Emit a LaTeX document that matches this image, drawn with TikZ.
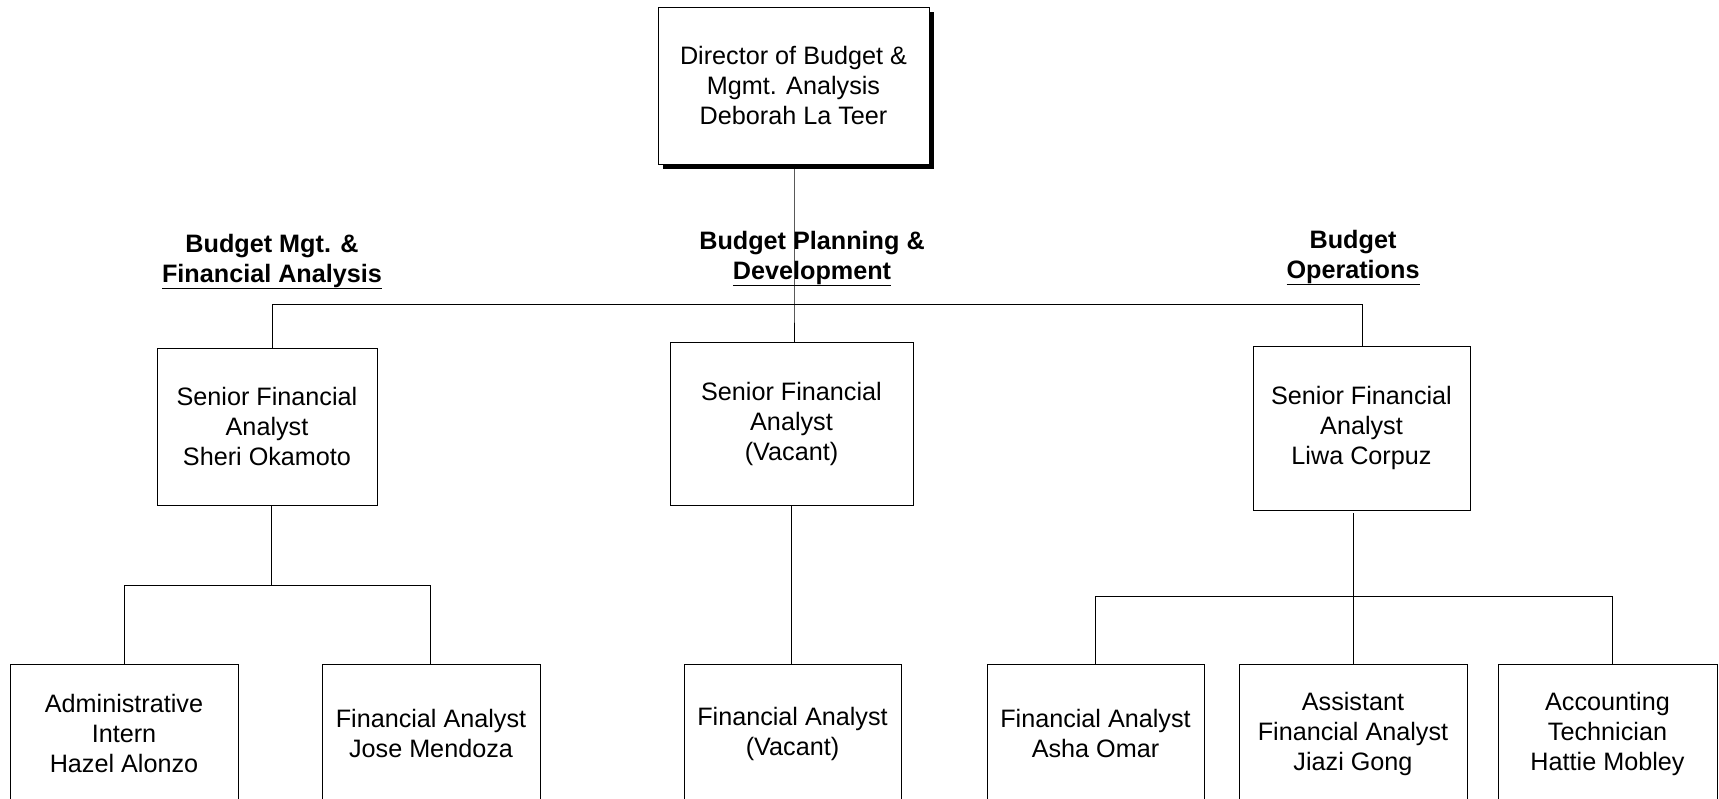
\documentclass[tikz,border=0pt]{standalone}
\usepackage{fontspec}
\setmainfont{Liberation Sans}
\usetikzlibrary{shadows}

\newcommand{\headul}[1]{\setbox0\hbox{#1}\rlap{\rule[-3.2pt]{\wd0}{0.9pt}}\box0}

\tikzset{
    post/.style={draw, line width=0.5pt, align=center, inner sep=0pt,
        font=\fontsize{12.6}{15}\selectfont},
    unit/.style={align=center, inner sep=0pt,
        font=\bfseries\fontsize{12.6}{15}\selectfont},
    link/.style={line width=0.5pt}
}

\begin{document}
\begin{tikzpicture}[x=0.5pt, y=-0.5pt]
\useasboundingbox (0,0) rectangle (1719,798);

% director
\node[post, minimum width=135.5pt, minimum height=78.5pt, fill=white,
    drop shadow={shadow xshift=2.5pt, shadow yshift=-2.5pt, fill=black, opacity=1}]
    (d1) at (793.5,85.5) {Director of Budget \&\\ Mgmt. Analysis\\ Deborah La Teer};

% section headings
\node[unit] (u1) at (272,262) {Budget Mgt. \&\\ \headul{Financial Analysis}};
\node[unit] (u2) at (812,259) {Budget Planning \&\\ \headul{Development}};
\node[unit] (u3) at (1353,258) {Budget\\ \headul{Operations}};

% senior analysts
\node[post, minimum width=110pt, minimum height=78.5pt]
    (s1) at (267,426.5) {Senior Financial\\ Analyst\\ Sheri Okamoto};
\node[post, minimum width=121.5pt, minimum height=81.5pt]
    (s2) at (791.5,423.5) {Senior Financial\\ Analyst\\ (Vacant)};
\node[post, minimum width=108.5pt, minimum height=82pt]
    (s3) at (1361.5,428) {Senior Financial\\ Analyst\\ Liwa Corpuz};

% staff
\node[post, minimum width=114pt, minimum height=69.5pt]
    (f1) at (124,733.5) {Administrative\\ Intern\\ Hazel Alonzo};
\node[post, minimum width=109pt, minimum height=69.5pt]
    (f2) at (431,733.5) {Financial Analyst\\ Jose Mendoza};
\node[post, minimum width=108.5pt, minimum height=69.5pt]
    (f3) at (792.5,733.5) {Financial Analyst\\ (Vacant)};
\node[post, minimum width=108.5pt, minimum height=69.5pt]
    (f4) at (1095.5,733.5) {Financial Analyst\\ Asha Omar};
\node[post, minimum width=114pt, minimum height=69.5pt]
    (f5) at (1353,733.5) {Assistant\\ Financial Analyst\\ Jiazi Gong};
\node[post, minimum width=109.5pt, minimum height=69.5pt]
    (f6) at (1607.5,733.5) {Accounting\\ Technician\\ Hattie Mobley};

% top bus
\coordinate (b0) at (794,304);
\coordinate (bl) at (272,304);
\coordinate (br) at (1362,304);
\draw[link] (d1.south -| b0) -- (b0) -- (b0 |- s2.north);
\draw[link] (bl |- s1.north) -- (bl) -- (br) -- (br |- s3.north);

% left group
\coordinate (c1) at (271,585);
\coordinate (c1l) at (124,585);
\coordinate (c1r) at (430,585);
\draw[link] (c1 |- s1.south) -- (c1);
\draw[link] (c1l |- f1.north) -- (c1l) -- (c1r) -- (c1r |- f2.north);

% middle group
\draw[link] (s2.south) -- (s2.south |- f3.north);

% right group
\coordinate (c3t) at (1353,513);
\coordinate (c3l) at (1095,596);
\coordinate (c3r) at (1612,596);
\draw[link] (c3t) -- (c3t |- f5.north);
\draw[link] (c3l |- f4.north) -- (c3l) -- (c3r) -- (c3r |- f6.north);
\end{tikzpicture}
\end{document}
